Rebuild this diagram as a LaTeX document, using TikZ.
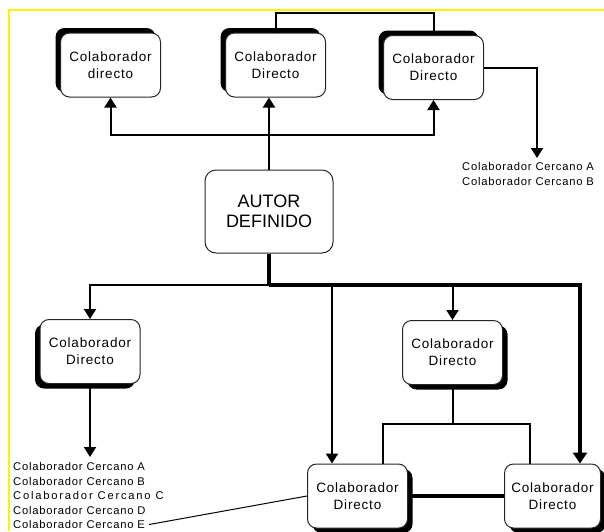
\documentclass[tikz,border=0pt]{standalone}
\usepackage{fontspec}
\setmainfont{Liberation Sans}
\newfontfamily\boxfont[LetterSpace=6]{Liberation Sans}
\newfontfamily\listfont[LetterSpace=7]{Liberation Sans}
\newfontfamily\listwide[LetterSpace=16]{Liberation Sans}
\usetikzlibrary{arrows.meta,shadows}
\begin{document}
\begin{tikzpicture}[x=1pt,y=-1pt,
  box/.style={draw=black!85, line width=1pt, rounded corners=9pt, fill=white,
    minimum width=100pt, minimum height=64pt, align=center, inner sep=0pt,
    font=\boxfont\fontsize{13.5}{17}\selectfont},
  shUL/.style={drop shadow={shadow xshift=-5pt, shadow yshift=5pt, fill=black, opacity=1}},
  shDL/.style={drop shadow={shadow xshift=-5pt, shadow yshift=-5pt, fill=black, opacity=1}},
  shDR/.style={drop shadow={shadow xshift=5pt, shadow yshift=-5pt, fill=black, opacity=1}},
  conn/.style={draw=black, line width=2pt},
  thickconn/.style={draw=black, line width=3.5pt},
  arr/.style={conn, -{Triangle[length=10pt,width=12pt]}},
  thickarr/.style={thickconn, -{Triangle[length=11pt,width=14pt]}},
  listtxt/.style={anchor=west, inner sep=0pt, font=\listfont\fontsize{11.2}{14}\selectfont},
  frame/.style={draw=yellow, line width=1.5pt}
]
\useasboundingbox (0,0) rectangle (604,531);
\draw[frame] (9,531) -- (9,10) -- (604,10);

% nodes
\node[box, shUL] (tl) at (110.5,65) {Colaborador\\directo};
\node[box, shUL] (tm) at (275.5,65) {Colaborador\\Directo};
\node[box, shUL] (tr) at (433.5,67.5) {Colaborador\\Directo};
\node[box, minimum width=128pt, minimum height=83pt, rounded corners=11pt,
      font=\fontsize{18}{20}\selectfont] (autor) at (269,211.5) {AUTOR\\DEFINIDO};
\node[box, shDL] (ml) at (90,351.5) {Colaborador\\Directo};
\node[box, shDR] (mr) at (452.5,352.5) {Colaborador\\Directo};
\node[box, shDR] (bl) at (357.5,496) {Colaborador\\Directo};
\node[box, shDR, minimum width=96pt] (br) at (552.5,496) {Colaborador\\Directo};

% lists
\node[listtxt] (ccA1) at (462,166) {Colaborador Cercano A};
\node[listtxt] (ccB1) at (462,181) {Colaborador Cercano B};
\node[listtxt] (ccA) at (13,466) {Colaborador Cercano A};
\node[listtxt] (ccB) at (13,481) {Colaborador Cercano B};
\node[listtxt, font=\listwide\fontsize{11.2}{14}\selectfont] (ccC) at (13,495.5) {Colaborador Cercano C};
\node[listtxt] (ccD) at (13,510) {Colaborador Cercano D};
\node[listtxt] (ccE) at (13,524.5) {Colaborador Cercano E};

% coordinates
\coordinate (ttop) at (354,13);
\coordinate (jt) at (269,135);
\coordinate (cab) at (537,158);
\coordinate (jb) at (269,285);
\coordinate (cl) at (90,457);
\coordinate (jm) at (452.5,424);
\path (bl.north) ++(-25.5,0) coordinate (blin);
\path (br.north) ++(27.5,0) coordinate (brin);
\path (bl.north) ++(25,0) coordinate (bltop);
\path (br.north) ++(-22.5,0) coordinate (brtop);

% top connectors
\draw[arr] (autor.north) -- (autor.north |- tm.south);
\draw[arr] (jt) -| (tl.south);
\draw[arr] (jt) -| (tr.south);
\draw[conn] (tm.north) |- (ttop) -| (tr.north);
\draw[arr] (tr.east) -| (cab);

% bottom connectors
\draw[thickconn] (autor.south) -- (jb);
\draw[arr] (jb) -| (ml.north);
\draw[thickarr] (jb) -| (brin);
\draw[arr] (blin |- jb) -- (blin);
\draw[arr] (mr.north |- jb) -- (mr.north);
\draw[arr] (ml.south) -- (cl);
\draw[conn] (mr.south) -- (jm);
\draw[conn] (bltop) |- (jm) -| (brtop);
\draw[thickconn] (bl.east) -- (br.west);
\draw[line width=1pt] ([xshift=4pt]ccE.east) -- (bl.west);
\end{tikzpicture}
\end{document}
